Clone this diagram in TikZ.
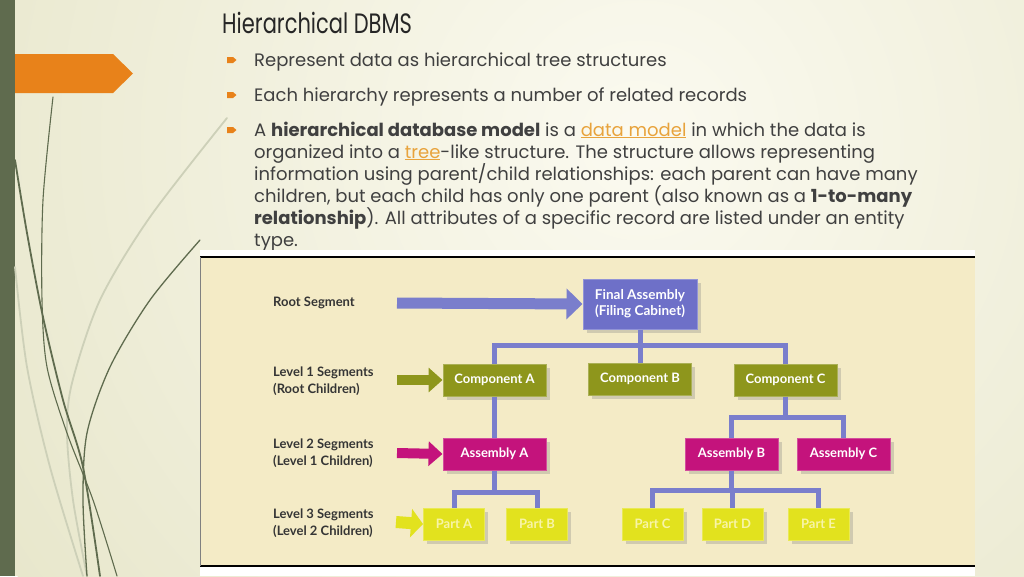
\documentclass[tikz,border=0pt]{standalone}
\usepackage{fontspec}
\setmainfont{Poppins}
\newfontfamily\titlefont{Poppins}[FakeStretch=0.75]
\newfontfamily\diagfont{Lato}
\usepackage{xcolor}
\usetikzlibrary{arrows.meta,positioning,shadows}

\begin{document}
\begin{tikzpicture}[x=1pt,y=-1pt,
  box/.style={fill=#1, draw=#1!75!white, line width=1pt, minimum height=32pt, inner sep=0pt,
    text=white, font=\diagfont\bfseries\fontsize{13}{15}\selectfont,
    drop shadow={shadow xshift=3.5pt, shadow yshift=-3.5pt, opacity=0.3}},
  conn/.style={draw=colLine, line width=5pt},
  blockarrow/.style={draw=#1, line width=10pt, -{Triangle[length=14pt,width=24pt]}},
  seglabel/.style={anchor=west, align=left, inner sep=0pt, text=colLabel,
    font=\diagfont\bfseries\fontsize{13}{17}\selectfont},
  slidetxt/.style={anchor=base west, inner sep=0pt, text=colText, font=\fontsize{18}{22}\selectfont},
  stem/.style={line width=1.8pt, line cap=round}]

% Colori
\definecolor{bgBase}{HTML}{E8E7CC}
\definecolor{bgLight}{HTML}{FBFAF0}
\definecolor{colBar}{HTML}{5F6B4E}
\definecolor{colStemLt}{HTML}{CDD0B8}
\definecolor{colOrange}{HTML}{E8821A}
\definecolor{colTitle}{HTML}{262626}
\definecolor{colText}{HTML}{404040}
\definecolor{colLink}{HTML}{E8A33C}
\definecolor{colPanel}{HTML}{F4EBC6}
\definecolor{colLabel}{HTML}{353535}
\definecolor{colLine}{HTML}{7A7ECC}
\definecolor{colFinal}{HTML}{6E70C8}
\definecolor{colComp}{HTML}{8E961C}
\definecolor{colAsm}{HTML}{C4137C}
\definecolor{colPart}{HTML}{E2E21E}
\definecolor{colPartTxt}{HTML}{F8F4A8}

\useasboundingbox (0,0) rectangle (1024,576);

% Sfondo
\fill[bgBase] (0,0) rectangle (1024,576);
\begin{scope}
  \clip (0,0) rectangle (1024,576);
  \shade[inner color=bgLight, outer color=bgBase] (640,140) circle (760);
\end{scope}
\fill[colBar] (0,0) rectangle (15,576);
\fill[colOrange] (15,54) -- (113,54) -- (133,73.5) -- (113,93) -- (15,93) -- cycle;

% Steli decorativi
\draw[stem, colStemLt] plot[smooth] coordinates {(227,118) (150,217) (100,300) (72,383) (67,433) (73,500) (87,576)};
\draw[stem, colStemLt] plot[smooth] coordinates {(15,267) (27,367) (50,467) (83,576)};
\draw[stem, colBar, line width=1.1pt] plot[smooth] coordinates {(53,97) (43,200) (42,300) (47,367) (67,433) (93,500) (117,576)};
\draw[stem, colBar] plot[smooth] coordinates {(15,160) (27,233) (43,317) (63,400) (83,467) (100,576)};
\draw[stem, colBar, line width=1.3pt] plot[smooth] coordinates {(200,240) (150,300) (110,367) (87,433) (83,500) (87,576)};

% Titolo
\node[anchor=base west, inner sep=0pt, text=colTitle, font=\titlefont\fontsize{28}{30}\selectfont] (title) at (222,33) {Hierarchical DBMS};

% Punti elenco
\foreach \y in {60,95,130}
  \fill[colOrange] (227,\y-3) -- (233,\y-3) -- (236.5,\y) -- (233,\y+3) -- (227,\y+3) -- cycle;

\node[slidetxt] (item1) at (254,66) {Represent data as hierarchical tree structures};
\node[slidetxt] (item2) at (254,101) {Each hierarchy represents a number of related records};
% ancorato all'ultima riga (type.)
\node[slidetxt, align=left] (item3) at (254,246) {A \textbf{hierarchical database model} is a \textcolor{colLink}{\underline{data model}} in which the data is\\
organized into a \textcolor{colLink}{\underline{tree}}-like structure. The structure allows representing\\
information using parent/child relationships: each parent can have many\\
children, but each child has only one parent (also known as a \textbf{1-to-many}\\
\textbf{relationship}). All attributes of a specific record are listed under an entity\\
type.};

% Pannello della figura
\fill[white] (200,250) rectangle (975,576);
\fill[colPanel] (200,257) rectangle (975,566);
\draw[black, line width=1.5pt] (200,257) -- (975,257);
\draw[black, line width=1.2pt] (200,566) -- (975,566);
\draw[gray, line width=0.6pt] (200,257) -- (200,566);

% Etichette dei livelli
\node[seglabel] (lroot) at (273,303) {Root Segment};
\node[seglabel] (lev1) at (273,381.5) {Level 1 Segments\\(Root Children)};
\node[seglabel] (lev2) at (273,453) {Level 2 Segments\\(Level 1 Children)};
\node[seglabel] (lev3) at (273,523) {Level 3 Segments\\(Level 2 Children)};

% Segmenti
\node[box=colFinal, minimum width=114pt, minimum height=50pt, align=center, font=\diagfont\bfseries\fontsize{13.5}{16}\selectfont] (final) at (640,304) {Final Assembly\\(Filing Cabinet)};
\node[box=colComp, minimum width=103pt] (compA) at (494.5,380) {Component A};
\node[box=colComp, minimum width=103pt] (compB) at (640,379) {Component B};
\node[box=colComp, minimum width=103pt] (compC) at (785.5,380) {Component C};
\node[box=colAsm, minimum width=103pt] (asmA) at (494.5,454) {Assembly A};
\node[box=colAsm, minimum width=93pt] (asmB) at (731.5,454) {Assembly B};
\node[box=colAsm, minimum width=93pt] (asmC) at (843.5,454) {Assembly C};
\node[box=colPart, minimum width=61pt, text=colPartTxt] (partA) at (454,524) {Part A};
\node[box=colPart, minimum width=61pt, text=colPartTxt] (partB) at (537,524) {Part B};
\node[box=colPart, minimum width=61pt, text=colPartTxt] (partC) at (652.5,524) {Part C};
\node[box=colPart, minimum width=61pt, text=colPartTxt] (partD) at (732.5,524) {Part D};
\node[box=colPart, minimum width=61pt, text=colPartTxt] (partE) at (818.5,524) {Part E};

% Collegamenti padre/figlio
\coordinate (bus1) at (0,345);
\coordinate (bus2) at (0,417);
\coordinate (bus3) at (0,492);
\coordinate (bus4) at (0,490);
\draw[conn] (final.south) -- (compB.north);
\draw[conn] (compA.north) |- (compC.north |- bus1) -- (compC.north);
\draw[conn] (compA.south) -- (asmA.north);
\draw[conn] (compC.south) -- (compC.south |- bus2);
\draw[conn] (asmB.north) |- (asmC.north |- bus2) -- (asmC.north);
\draw[conn] (asmA.south) -- (asmA.south |- bus3);
\draw[conn] (partA.north) |- (partB.north |- bus3) -- (partB.north);
\draw[conn] (asmB.south) -- (asmB.south |- bus4);
\draw[conn] (partC.north) |- (partE.north |- bus4) -- (partE.north);
\draw[conn] (partD.north) -- (partD.north |- bus4);

% Frecce
\coordinate (inRoot) at (397,303);
\coordinate (inLev1) at (397,380);
\coordinate (inLev2) at (397,453);
\coordinate (inLev3) at (396,522);
\draw[blockarrow=colLine, line width=11pt, -{Triangle[length=16pt,width=30pt]}] (inRoot) -- (final.west);
\draw[blockarrow=colComp] (inLev1) -- (compA.west);
\draw[blockarrow=colAsm] (inLev2) -- (asmA.west);
\draw[blockarrow=colPart, line width=12pt, -{Triangle[length=12pt,width=28pt]}] (inLev3) -- (partA.west);

\end{tikzpicture}
\end{document}
